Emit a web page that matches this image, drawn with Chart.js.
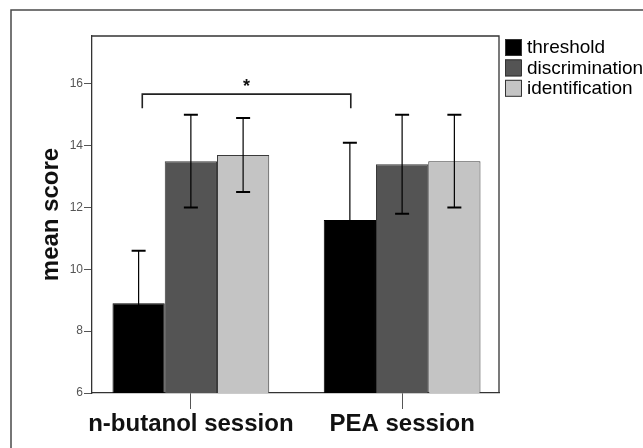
<!DOCTYPE html>
<html>
<head>
<meta charset="utf-8">
<script src="https://cdn.jsdelivr.net/npm/chart.js@4.4.1/dist/chart.umd.min.js"></script>
<style>
  html, body { margin: 0; padding: 0; background: #fff; }
  #wrap { width: 643px; height: 448px; position: relative; }
</style>
</head>
<body>
<div id="wrap"><canvas id="canvas" width="643" height="448"></canvas></div>
<script>
// data
var sessions = ['n-butanol session', 'PEA session'];
var seriesNames = ['threshold', 'discrimination', 'identification'];
var thresholdMean = [8.9, 11.6];
var thresholdErr = [1.7, 2.5];
var discriminationMean = [13.5, 13.4];
var discriminationErr = [1.5, 1.6];
var identificationMean = [13.7, 13.5];
var identificationErr = [1.2, 1.5];
var yTickValues = [6, 8, 10, 12, 14, 16];

// significance bracket between the two threshold bars
var sigFromX = -0.23;
var sigToX = 0.757;
var sigY = 15.67;
var sigDropY = 15.21;
var sigLabel = '*';

var FONT = '"Liberation Sans", Arial, Helvetica, sans-serif';
var colors = ['#000000', '#545454', '#c4c4c4'];

function toPoints(arr) {
  return arr.map(function(v, i) { return { x: i, y: v }; });
}

var means = [thresholdMean, discriminationMean, identificationMean];
var errs = [thresholdErr, discriminationErr, identificationErr];

var datasets = seriesNames.map(function(name, i) {
  return {
    label: name,
    data: toPoints(means[i]),
    errors: errs[i],
    backgroundColor: colors[i],
    borderColor: i == 0 ? '#000' : '#3a3a3a',
    borderWidth: 1,
    borderSkipped: false,
    categoryPercentage: 0.742,
    barPercentage: 1.0
  };
});

// outer frame (only top and left edges are in the picture) + plot box
var framePlugin = {
  id: 'frame',
  beforeDraw: function(chart) {
    var ctx = chart.ctx;
    ctx.save();
    ctx.fillStyle = '#fff';
    ctx.fillRect(0, 0, chart.width, chart.height);
    ctx.strokeStyle = '#4a4a4a';
    ctx.lineWidth = 1.5;
    ctx.beginPath();
    ctx.moveTo(11, chart.height);
    ctx.lineTo(11, 10);
    ctx.lineTo(chart.width, 10);
    ctx.stroke();
    ctx.restore();
  },
  afterDraw: function(chart) {
    var a = chart.chartArea;
    var ctx = chart.ctx;
    ctx.save();
    ctx.strokeStyle = '#333';
    ctx.lineWidth = 1.3;
    ctx.beginPath();
    ctx.moveTo(a.left, a.top);
    ctx.lineTo(a.right, a.top);
    ctx.lineTo(a.right, a.bottom);
    ctx.stroke();
    ctx.restore();
  }
};

var errorBarPlugin = {
  id: 'errorBars',
  afterDatasetsDraw: function(chart) {
    var ctx = chart.ctx;
    var y = chart.scales.y;
    ctx.save();
    ctx.strokeStyle = '#000';
    chart.data.datasets.forEach(function(ds, i) {
      var meta = chart.getDatasetMeta(i);
      meta.data.forEach(function(bar, j) {
        var v = ds.data[j].y;
        var e = ds.errors[j];
        var top = y.getPixelForValue(v + e);
        var bot = y.getPixelForValue(v - e);
        ctx.lineWidth = 1.2;
        ctx.beginPath();
        ctx.moveTo(bar.x, top);
        ctx.lineTo(bar.x, bot);
        ctx.stroke();
        ctx.lineWidth = 2;
        ctx.beginPath();
        ctx.moveTo(bar.x - 7, top);
        ctx.lineTo(bar.x + 7, top);
        ctx.moveTo(bar.x - 7, bot);
        ctx.lineTo(bar.x + 7, bot);
        ctx.stroke();
      });
    });
    ctx.restore();
  }
};

var bracketPlugin = {
  id: 'bracket',
  afterDatasetsDraw: function(chart) {
    var ctx = chart.ctx;
    var x = chart.scales.x, y = chart.scales.y;
    var x1 = x.getPixelForValue(sigFromX);
    var x2 = x.getPixelForValue(sigToX);
    var yl = y.getPixelForValue(sigY);
    var yd = y.getPixelForValue(sigDropY);
    ctx.save();
    ctx.strokeStyle = '#222';
    ctx.lineWidth = 1.6;
    ctx.beginPath();
    ctx.moveTo(x1, yd);
    ctx.lineTo(x1, yl);
    ctx.lineTo(x2, yl);
    ctx.lineTo(x2, yd);
    ctx.stroke();
    ctx.fillStyle = '#111';
    ctx.font = 'bold 18px ' + FONT;
    ctx.textAlign = 'center';
    ctx.textBaseline = 'alphabetic';
    ctx.fillText(sigLabel, (x1 + x2) / 2, yl - 2);
    ctx.restore();
  }
};

var legendPlugin = {
  id: 'sideLegend',
  afterDraw: function(chart) {
    var ctx = chart.ctx;
    var left = chart.chartArea.right + 6;
    var top = 39;
    ctx.save();
    ctx.font = '19px ' + FONT;
    ctx.textBaseline = 'middle';
    ctx.textAlign = 'left';
    chart.data.datasets.forEach(function(ds, i) {
      var yy = top + i * 20.4;
      ctx.fillStyle = ds.backgroundColor;
      ctx.fillRect(left, yy, 16, 17);
      ctx.strokeStyle = '#333';
      ctx.lineWidth = 1;
      ctx.strokeRect(left + 0.5, yy + 0.5, 16, 16);
      ctx.fillStyle = '#000';
      ctx.fillText(ds.label, left + 22, yy + 9);
    });
    ctx.restore();
  }
};

var ctx = document.getElementById('canvas');
var chart = new Chart(ctx, {
  type: 'bar',
  data: { datasets: datasets },
  options: {
    responsive: false,
    animation: false,
    layout: { padding: { left: 0, top: 36, right: 144, bottom: 0 } },
    plugins: {
      legend: { display: false },
      tooltip: { enabled: false }
    },
    scales: {
      x: {
        type: 'linear',
        offset: false,
        min: -0.468,
        max: 1.4586,
        afterBuildTicks: function(scale) {
          scale.ticks = sessions.map(function(s, i) { return { value: i }; });
        },
        afterFit: function(scale) { scale.height = 55; },
        grid: {
          drawOnChartArea: false,
          offset: false,
          tickLength: 16,
          color: '#555',
          lineWidth: 1
        },
        border: { display: true, color: '#333', width: 1.3 },
        ticks: {
          padding: 1,
          autoSkip: false,
          maxRotation: 0,
          minRotation: 0,
          color: '#111',
          font: { family: FONT, size: 24, weight: 'bold' },
          callback: function(v) { return sessions[v]; }
        }
      },
      y: {
        min: 6,
        max: 17.55,
        afterBuildTicks: function(scale) {
          scale.ticks = yTickValues.map(function(v) { return { value: v }; });
        },
        afterFit: function(scale) { scale.width = 92; },
        grid: {
          drawOnChartArea: false,
          tickLength: 8,
          color: '#555',
          lineWidth: 1
        },
        border: { display: true, color: '#333', width: 1.3 },
        ticks: {
          padding: 1,
          color: '#555',
          font: { family: FONT, size: 12 }
        },
        title: {
          display: true,
          text: 'mean score',
          color: '#111',
          font: { family: FONT, size: 24, weight: 'bold' },
          padding: { top: 37, bottom: 0 }
        }
      }
    }
  },
  plugins: [framePlugin, errorBarPlugin, bracketPlugin, legendPlugin]
});
</script>
</body>
</html>
